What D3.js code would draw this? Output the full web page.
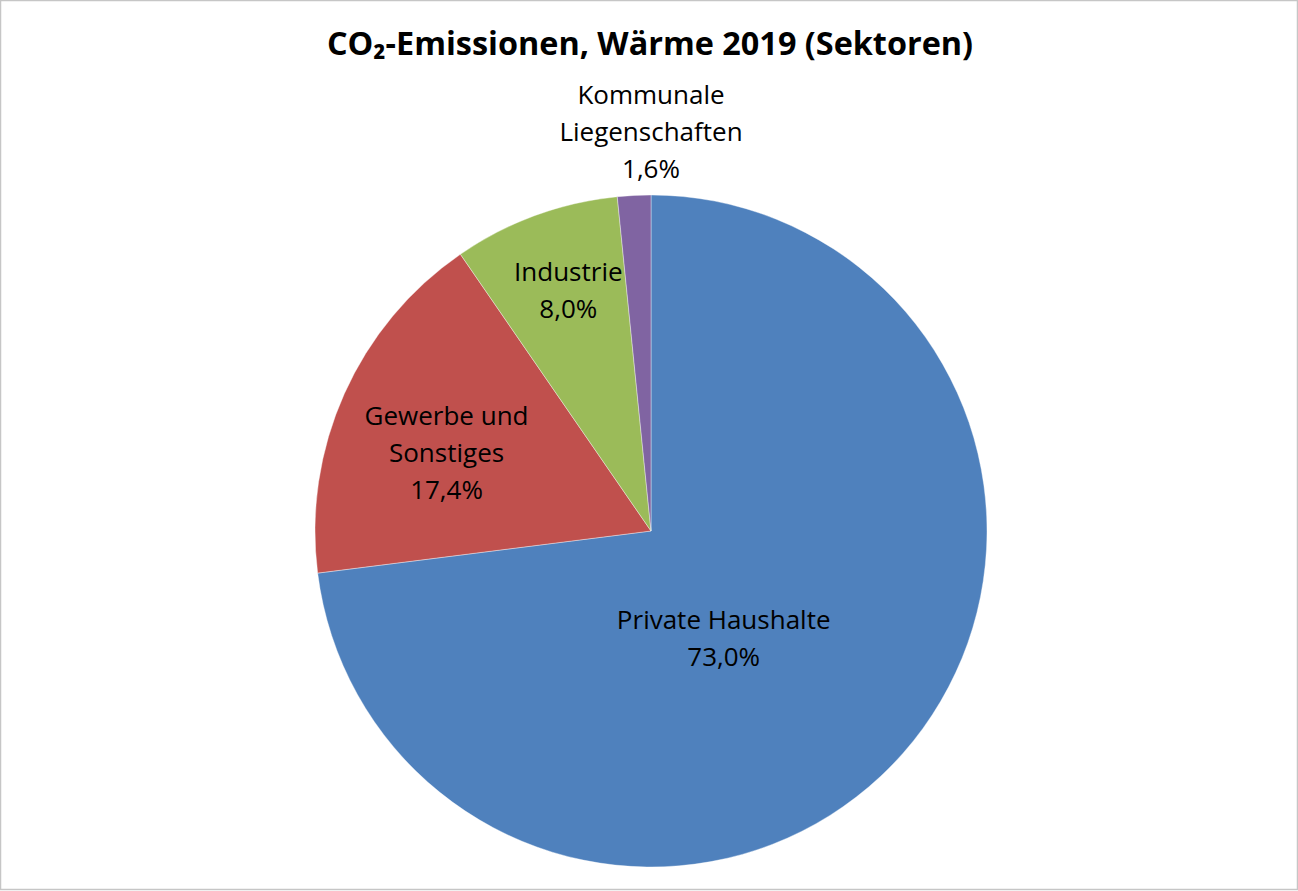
<!DOCTYPE html>
<html><head><meta charset="utf-8">
<script src="https://cdn.jsdelivr.net/npm/d3@7"></script>
<style>
html,body{margin:0;padding:0;background:#fff;}
svg{display:block;}
text{font-family:"Open Sans","DejaVu Sans",sans-serif;fill:#000;}
</style></head>
<body>
<svg id="chart" width="1298" height="891"></svg>
<script>
const categories = ["Private Haushalte", "Gewerbe und Sonstiges", "Industrie", "Kommunale Liegenschaften"];
const values = [73.0, 17.4, 8.0, 1.6];
const labelLines = [["Private Haushalte"], ["Gewerbe und", "Sonstiges"], ["Industrie"], ["Kommunale", "Liegenschaften"]];
const colors = ["#4F81BD", "#C0504D", "#9BBB59", "#8064A2"];
const title = "CO₂-Emissionen, Wärme 2019 (Sektoren)";

const W = 1298, H = 891;
const svg = d3.select("#chart");
svg.append("rect").attr("x", 0.5).attr("y", 0.5).attr("width", 1297).attr("height", 889)
  .attr("fill", "#fff").attr("stroke", "#c6c6c6").attr("stroke-width", 1.5);

svg.append("text").attr("x", 650).attr("y", 55).attr("text-anchor", "middle")
  .style("font-size", "32.4px").style("font-weight", "bold").text(title);

const cx = 651, cy = 531, R = 336;
const pie = d3.pie().sort(null).value(d => d)(values);
const arc = d3.arc().innerRadius(0).outerRadius(R);
const g = svg.append("g").attr("transform", `translate(${cx},${cy})`);
g.selectAll("path").data(pie).join("path")
  .attr("d", arc).attr("fill", (d, i) => colors[i])
  .attr("stroke", "rgba(255,255,255,0.5)").attr("stroke-width", 0.75);

const fmt = v => d3.format(".1f")(v).replace(".", ",") + "%";
// label anchor: polar (angle from 12 o'clock, radius) relative to pie centre
const labelPolar = [[146, 130], [-69, 219], [-19, 254], [0, 399]];
const lineH = 37;
pie.forEach((d, i) => {
  const [a, r] = labelPolar[i];
  const rad = a * Math.PI / 180;
  const x = r * Math.sin(rad), y = -r * Math.cos(rad);
  const lines = labelLines[i].concat([fmt(values[i])]);
  const t = g.append("text").attr("text-anchor", "middle").style("font-size", "26px");
  lines.forEach((l, k) => {
    t.append("tspan").attr("x", x).attr("y", y + (k - (lines.length - 1) / 2) * lineH + 9).text(l);
  });
});
</script>
</body></html>
